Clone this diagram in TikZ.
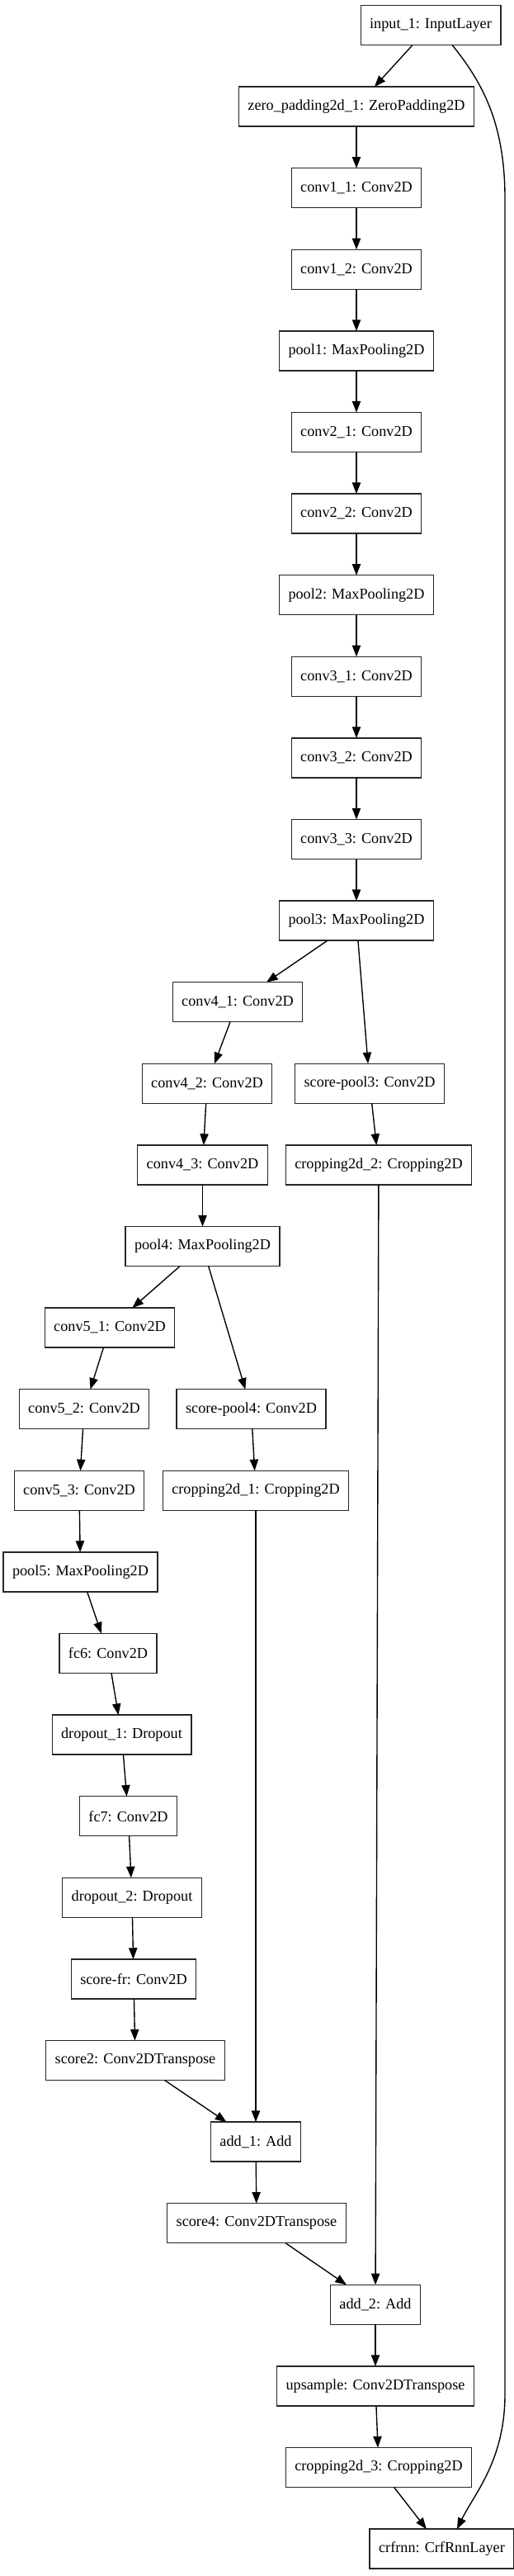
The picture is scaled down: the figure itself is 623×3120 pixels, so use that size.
\documentclass[tikz,border=0pt]{standalone}
\usepackage{fontspec}
\setmainfont{Liberation Serif}
\usetikzlibrary{arrows.meta, positioning}
\tikzset{
    node distance=37pt,
    % --- layer boxes ---
    layerBox/.style={
        rectangle, draw=black!85, line width=1pt, fill=white,
        minimum height=35pt, inner xsep=8pt, inner ysep=0pt, outer sep=0pt,
        font=\fontsize{13.3}{15}\selectfont
    },
    % --- connectors ---
    conn/.style={
        draw=black, line width=1pt,
        -{Triangle[length=10pt, width=7.5pt]}
    }
}

\begin{document}
\begin{tikzpicture}[x=0.7302pt, y=-0.7302pt]

	\useasboundingbox (0,0) rectangle (623,3120);

	% --- input and VGG trunk ---
	\node [layerBox] (inp) at (522,30.5) {input\_1: InputLayer};
	\node [layerBox] (zp) at (432,129.1) {zero\_padding2d\_1: ZeroPadding2D};
	\node [layerBox, below=of zp] (c11) {conv1\_1: Conv2D};
	\node [layerBox, below=of c11] (c12) {conv1\_2: Conv2D};
	\node [layerBox, below=of c12] (p1) {pool1: MaxPooling2D};
	\node [layerBox, below=of p1] (c21) {conv2\_1: Conv2D};
	\node [layerBox, below=of c21] (c22) {conv2\_2: Conv2D};
	\node [layerBox, below=of c22] (p2) {pool2: MaxPooling2D};
	\node [layerBox, below=of p2] (c31) {conv3\_1: Conv2D};
	\node [layerBox, below=of c31] (c32) {conv3\_2: Conv2D};
	\node [layerBox, below=of c32] (c33) {conv3\_3: Conv2D};
	\node [layerBox, below=of c33] (p3) {pool3: MaxPooling2D};

	% --- block 4 and pool3 score branch ---
	\node [layerBox] (c41) at (288,1213.7) {conv4\_1: Conv2D};
	\node [layerBox] (c42) at (251,1312.3) {conv4\_2: Conv2D};
	\node [layerBox] (c43) at (245.5,1410.9) {conv4\_3: Conv2D};
	\node [layerBox] (p4) at (245.5,1509.5) {pool4: MaxPooling2D};
	\node [layerBox] (sp3) at (448,1312.3) {score-pool3: Conv2D};
	\node [layerBox] (crop2) at (459,1410.9) {cropping2d\_2: Cropping2D};

	% --- block 5 and pool4 score branch ---
	\node [layerBox] (c51) at (133,1608.1) {conv5\_1: Conv2D};
	\node [layerBox] (c52) at (102,1706.7) {conv5\_2: Conv2D};
	\node [layerBox] (c53) at (96,1805.3) {conv5\_3: Conv2D};
	\node [layerBox] (p5) at (97.5,1903.9) {pool5: MaxPooling2D};
	\node [layerBox] (sp4) at (304.5,1706.7) {score-pool4: Conv2D};
	\node [layerBox] (crop1) at (310,1805.3) {cropping2d\_1: Cropping2D};

	% --- fully convolutional head ---
	\node [layerBox] (fc6) at (131,2002.5) {fc6: Conv2D};
	\node [layerBox] (do1) at (147.5,2101.1) {dropout\_1: Dropout};
	\node [layerBox] (fc7) at (155.5,2199.7) {fc7: Conv2D};
	\node [layerBox] (do2) at (160,2298.3) {dropout\_2: Dropout};
	\node [layerBox] (sfr) at (162,2396.9) {score-fr: Conv2D};
	\node [layerBox] (sc2) at (164,2495.5) {score2: Conv2DTranspose};

	% --- fusion and CRF ---
	\node [layerBox] (add1) at (310,2594.1) {add\_1: Add};
	\node [layerBox] (sc4) at (311,2692.7) {score4: Conv2DTranspose};
	\node [layerBox] (add2) at (455,2791.3) {add\_2: Add};
	\node [layerBox, below=of add2] (ups) {upsample: Conv2DTranspose};
	\node [layerBox] (crop3) at (459,2988.5) {cropping2d\_3: Cropping2D};
	\node [layerBox] (crf) at (535.5,3087.1) {crfrnn: CrfRnnLayer};

	% --- connectors ---
	\foreach \a/\b in {inp/zp, zp/c11, c11/c12, c12/p1, p1/c21, c21/c22, c22/p2,
			p2/c31, c31/c32, c32/c33, c33/p3, p3/c41, c41/c42, c42/c43, c43/p4,
			p3/sp3, sp3/crop2, p4/c51, c51/c52, c52/c53, c53/p5, p4/sp4, sp4/crop1,
			p5/fc6, fc6/do1, do1/fc7, fc7/do2, do2/sfr, sfr/sc2, sc2/add1, crop1/add1,
			add1/sc4, sc4/add2, crop2/add2, add2/ups, ups/crop3, crop3/crf} {
			\draw [conn] (\a) -- (\b);
		}

	% --- skip from the input to the CRF layer ---
	\coordinate (skipTop) at (612,240);
	\coordinate (skipBot) at (612,2900);
	\draw [conn] ([xshift=19pt]inp.south) .. controls (585,100) and (612,150) .. (skipTop)
		-- (skipBot) .. controls (612,2980) and (575,3020) .. ([xshift=13.5pt]crf.north);

\end{tikzpicture}
\end{document}
